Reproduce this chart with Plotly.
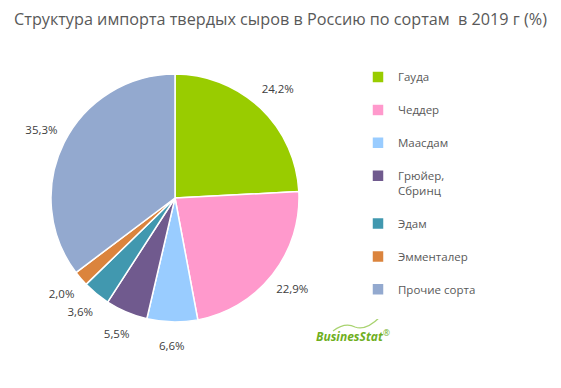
import plotly.graph_objects as go

title_text = "Структура импорта твердых сыров в Россию по сортам\u00a0 в 2019 г (%)"
categories = ["Гауда", "Чеддер", "Маасдам", "Грюйер,<br>Сбринц", "Эдам", "Эмменталер", "Прочие сорта"]
values = [24.2, 22.9, 6.6, 5.5, 3.6, 2.0, 35.3]
colors = ["#99CC00", "#FF99CC", "#99CCFF", "#705A8E", "#4198AF", "#DB843D", "#93A9CF"]

legend_labels = [c + "<br> " for c in categories]

W, H = 561, 388
def dom(x0, x1, ytop, ybot):
    return dict(x=[x0 / W, x1 / W], y=[(H - ybot) / H, (H - ytop) / H])

pie_domain = dom(51, 299, 74, 322)      # pie radius 124 px around (175, 198)
label_domain = dom(25, 325, 48, 348)    # concentric ring of radius 150 px for labels

# mid-angle of every slice (degrees, clockwise from 12 o'clock) for the data labels
total = sum(values)
mid_angles = []
acc = 0.0
for v in values:
    mid_angles.append(360.0 * (acc + v / 2.0) / total)
    acc += v

fig = go.Figure()
fig.add_trace(go.Pie(
    labels=legend_labels, values=values, sort=False, direction="clockwise", rotation=0,
    marker=dict(colors=colors, line=dict(color="white", width=1.5)),
    textinfo="none", domain=pie_domain, hoverinfo="label+value",
))
fig.add_trace(go.Scatterpolar(
    r=[0.995] * len(values), theta=mid_angles, customdata=values,
    mode="text", texttemplate="%{customdata:.1f}%",
    textfont=dict(family="Open Sans", size=11.5, color="#404040"),
    cliponaxis=False, showlegend=False, hoverinfo="skip",
))

fig.update_layout(
    width=W, height=H,
    margin=dict(l=0, r=0, t=0, b=0),
    paper_bgcolor="white",
    separators=", ",
    polar=dict(domain=label_domain, bgcolor="rgba(0,0,0,0)",
               radialaxis=dict(range=[0, 1], visible=False, showgrid=False),
               angularaxis=dict(direction="clockwise", rotation=90, visible=False, showgrid=False)),
    title=dict(text=title_text, x=0.5, xanchor="center", y=1 - 19 / H, yanchor="middle",
               font=dict(family="Open Sans", size=16.2, color="#595959")),
    legend=dict(x=358 / W, xanchor="left", y=1 - 63 / H, yanchor="top",
                valign="top", font=dict(family="Open Sans", size=11.5, color="#595959"),
                traceorder="normal", itemwidth=30),
    shapes=[dict(type="path", xref="paper", yref="paper",
                 path=(f"M {333/W} {1-331/H} Q {345/W} {1-322/H} {355/W} {1-327/H} "
                       f"Q {366/W} {1-331/H} {380/W} {1-317/H}"),
                 line=dict(color="#A9D370", width=1.2))],
    annotations=[dict(text="<b><i>BusinesStat</i></b><sup>®</sup>", x=314 / W, y=1 - 336 / H,
                      xref="paper", yref="paper", xanchor="left", yanchor="middle",
                      showarrow=False, font=dict(family="Open Sans", size=12, color="#6FAF1E"))],
)

fig.write_html("out.html", config={"displayModeBar": False},
               post_script="document.body.style.margin='0';")
